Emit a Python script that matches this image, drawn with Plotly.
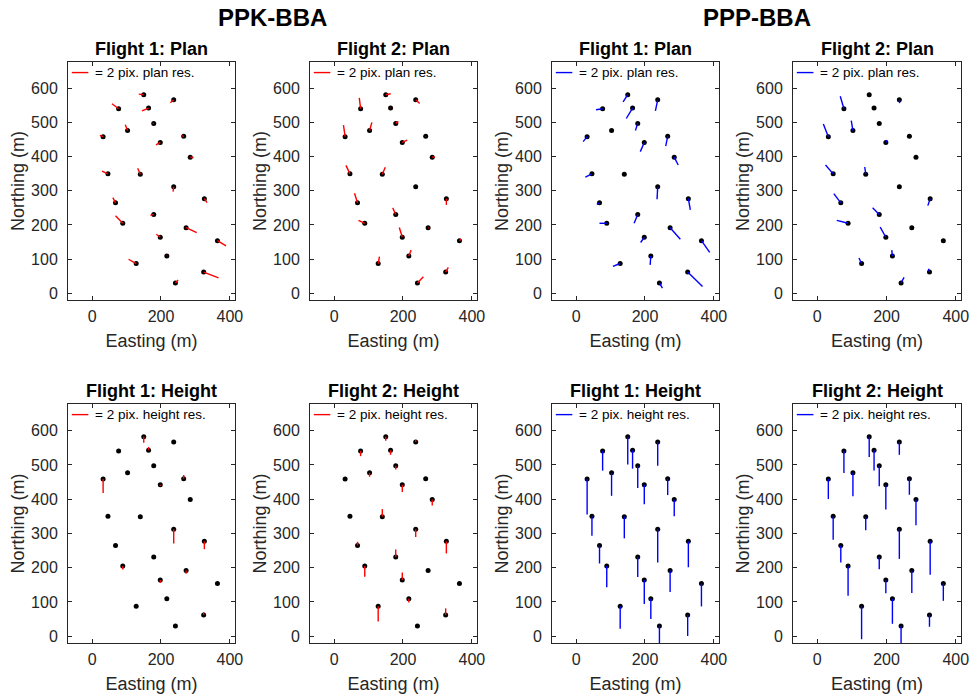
import plotly.graph_objects as go

# ---------------- data ----------------
# GCP locations (m)
easting = [150, 237, 77, 164, 179, 103, 32, 266, 198, 285, 46, 140,
           237, 326, 68, 179, 89, 273, 198, 364, 217, 128, 324, 242]
northing = [582, 567, 541, 543, 498, 477, 459, 460, 442, 399, 350, 349,
            312, 277, 265, 231, 205, 192, 164, 154, 109, 87, 62, 30]

# residuals in image pixels
ppk_f1_plan_dx = [-0.60, -0.40, -0.80, -0.80, -0.12, -0.28, -0.40, -0.28, -0.52, 0.40, -0.72, -0.32,
                  -0.08, 0.32, -0.32, -0.40, -0.88, 1.28, -0.48, 1.04, 0.04, -0.92, 1.80, 0.32]
ppk_f1_plan_dy = [0.08, -0.36, 0.60, -0.36, 0.00, 0.72, 0.16, 0.08, -0.28, -0.04, 0.32, 0.72,
                  -0.60, -0.48, 0.64, -0.12, 0.92, -0.60, 0.36, -0.64, 0.04, 0.52, -0.72, 0.36]
ppk_f2_plan_dx = [0.60, 0.48, -0.16, 0.04, 0.32, 0.28, -0.20, 0.00, 0.60, 0.32, -0.48, 0.36,
                  0.00, 0.00, -0.36, -0.36, -0.76, 0.08, -0.36, 0.20, 0.28, 0.16, 0.32, 0.72]
ppk_f2_plan_dy = [0.12, -0.44, 1.32, 0.00, 0.24, 1.00, 1.40, 0.04, 0.28, 0.00, 1.04, 0.84,
                  0.00, -0.76, 1.16, 0.80, 0.36, 0.00, 1.20, 0.20, 0.72, 0.84, 0.56, 0.76]
ppp_f1_plan_dx = [-0.56, -0.28, -0.80, -0.76, -0.28, 0.00, -0.48, -0.24, -0.48, 0.48, -0.80, 0.00,
                  -0.08, 0.24, -0.32, -0.44, -0.88, 1.24, -0.44, 1.00, -0.08, -0.88, 1.80, 0.36]
ppp_f1_plan_dy = [-0.88, -1.36, -0.12, -1.28, -0.88, 0.00, -0.60, -1.20, -1.12, -0.96, -0.40, 0.00,
                  -1.52, -1.36, -0.20, -1.08, 0.00, -1.40, -0.64, -1.44, -1.08, -0.36, -1.76, -0.64]
ppp_f2_plan_dx = [0.00, 0.04, -0.44, 0.00, 0.00, -0.20, -0.60, 0.00, 0.16, 0.00, -0.92, -0.12,
                  0.00, -0.28, -0.84, -0.80, -1.36, 0.00, -0.68, 0.00, -0.08, -0.32, -0.12, 0.36]
ppp_f2_plan_dy = [0.00, -0.40, 1.52, 0.00, 0.00, 1.20, 1.56, 0.00, 0.28, 0.00, 1.08, 0.88,
                  0.00, -0.84, 1.12, 0.80, 0.36, 0.00, 1.24, 0.00, 0.72, 0.68, 0.40, 0.68]

ppk_f1_height = [-0.72, 0.00, 0.00, 0.40, 0.00, 0.00, -1.72, 0.44, -0.12, 0.00, 0.00, 0.00,
                 -1.72, -0.96, 0.00, 0.00, -0.44, -0.40, -0.36, 0.00, 0.00, 0.00, 0.32, 0.00]
ppk_f2_height = [-0.48, 0.20, -0.64, -0.56, -0.48, -0.48, 0.00, 0.00, -0.88, -0.72, 0.00, 0.92,
                 -0.92, -1.48, 0.44, 0.92, -1.32, 0.00, 0.92, 0.00, -0.44, -1.84, 0.80, 0.00]
ppp_f1_height = [-3.36, -2.88, -2.40, -2.24, -2.72, -2.80, -4.32, -2.00, -2.36, -2.04, -2.36, -2.64,
                 -4.04, -3.16, -2.20, -2.44, -2.60, -2.64, -2.92, -2.80, -2.44, -2.72, -2.56, -2.20]
ppp_f2_height = [-2.44, -1.56, -2.68, -2.48, -2.52, -2.84, -2.44, -1.96, -3.00, -3.12, -2.84, -1.64,
                 -3.60, -4.08, -2.08, -1.48, -3.64, -2.76, -1.60, -2.12, -3.04, -4.00, -1.44, -2.20]

panel_titles = ["Flight 1: Plan", "Flight 2: Plan", "Flight 1: Plan", "Flight 2: Plan",
                "Flight 1: Height", "Flight 2: Height", "Flight 1: Height", "Flight 2: Height"]
group_titles = ["PPK-BBA", "PPP-BBA"]
legend_texts = ["= 2 pix. plan res."] * 4 + ["= 2 pix. height res."] * 4
x_ticks = [0, 200, 400]
y_ticks = [0, 100, 200, 300, 400, 500, 600]

# ---------------- styling ----------------
W, H = 975, 696
VEC = 24.0  # metres on the map per pixel of residual
RED, BLUE = "#ff0000", "#0000ff"
FONT = "Liberation Sans, Arial, Helvetica, sans-serif"
TXT = "#262626"
XR = [-70, 415]
YR = [-20, 678]

col_px = [(68, 235), (310, 477), (552, 719), (793, 961)]
row_px = [(62, 300), (404, 643)]

panels = [
    (ppk_f1_plan_dx, ppk_f1_plan_dy, RED),
    (ppk_f2_plan_dx, ppk_f2_plan_dy, RED),
    (ppp_f1_plan_dx, ppp_f1_plan_dy, BLUE),
    (ppp_f2_plan_dx, ppp_f2_plan_dy, BLUE),
    ([0] * len(easting), ppk_f1_height, RED),
    ([0] * len(easting), ppk_f2_height, RED),
    ([0] * len(easting), ppp_f1_height, BLUE),
    ([0] * len(easting), ppp_f2_height, BLUE),
]

fig = go.Figure()
annotations = []

for i, (dxs, dys, color) in enumerate(panels):
    r, c = divmod(i, 4)
    k = "" if i == 0 else str(i + 1)
    xa, ya = "x" + k, "y" + k
    x0p, x1p = col_px[c]
    y0p, y1p = row_px[r]
    common = dict(showgrid=False, zeroline=False, showline=True, mirror="ticks",
                  ticks="inside", ticklen=4, tickwidth=1, tickcolor=TXT,
                  linecolor=TXT, linewidth=1, automargin=False,
                  tickfont=dict(family=FONT, size=16, color=TXT))
    fig.layout["xaxis" + k] = dict(
        domain=[x0p / W, x1p / W], range=XR, anchor=ya,
        tickmode="array", tickvals=x_ticks, ticklabelstandoff=2,
        title=dict(text="Easting (m)", font=dict(family=FONT, size=18, color=TXT), standoff=10),
        **common)
    fig.layout["yaxis" + k] = dict(
        domain=[1 - y1p / H, 1 - y0p / H], range=YR, anchor=xa,
        tickmode="array", tickvals=y_ticks, ticklabelstandoff=6,
        title=dict(text="Northing (m)", font=dict(family=FONT, size=18, color=TXT), standoff=1),
        **common)

    # GCP dots
    fig.add_trace(go.Scatter(x=easting, y=northing, mode="markers", xaxis=xa, yaxis=ya,
                             marker=dict(color="black", size=5), showlegend=False,
                             hoverinfo="skip"))
    # residual vectors
    lx, ly = [], []
    for e, n, dx, dy in zip(easting, northing, dxs, dys):
        lx += [e, e + dx * VEC, None]
        ly += [n, n + dy * VEC, None]
    fig.add_trace(go.Scatter(x=lx, y=ly, mode="lines", xaxis=xa, yaxis=ya,
                             line=dict(color=color, width=1.4), showlegend=False,
                             hoverinfo="skip"))
    # legend key (2 pixels long)
    ly_key = YR[1] - 31
    lx0 = -59
    fig.add_trace(go.Scatter(x=[lx0, lx0 + 2 * VEC], y=[ly_key, ly_key], mode="lines",
                             xaxis=xa, yaxis=ya, line=dict(color=color, width=1.4),
                             showlegend=False, hoverinfo="skip"))
    annotations.append(dict(x=lx0 + 2 * VEC + 14, y=ly_key, xref=xa, yref=ya,
                            text=legend_texts[i], showarrow=False, xanchor="left",
                            yanchor="middle", font=dict(family=FONT, size=13.5, color="black")))
    # panel title
    annotations.append(dict(x=(x0p + x1p) / 2 / W, y=1 - (y0p - 13) / H, xref="paper", yref="paper",
                            text="<b>" + panel_titles[i] + "</b>", showarrow=False,
                            xanchor="center", yanchor="middle",
                            font=dict(family=FONT, size=18, color="black")))

for g, title in enumerate(group_titles):
    cx = (col_px[2 * g][0] + col_px[2 * g + 1][1]) / 2
    annotations.append(dict(x=cx / W, y=1 - 18 / H, xref="paper", yref="paper",
                            text="<b>" + title + "</b>", showarrow=False,
                            xanchor="center", yanchor="middle",
                            font=dict(family=FONT, size=24, color="black")))

fig.update_layout(width=W, height=H, autosize=False,
                  margin=dict(l=0, r=0, t=0, b=0),
                  paper_bgcolor="white", plot_bgcolor="white",
                  annotations=annotations,
                  font=dict(family=FONT, color=TXT))

fig.write_html("out.html", config={"displayModeBar": False},
               post_script="document.body.style.margin='0';document.body.style.overflow='hidden';")
